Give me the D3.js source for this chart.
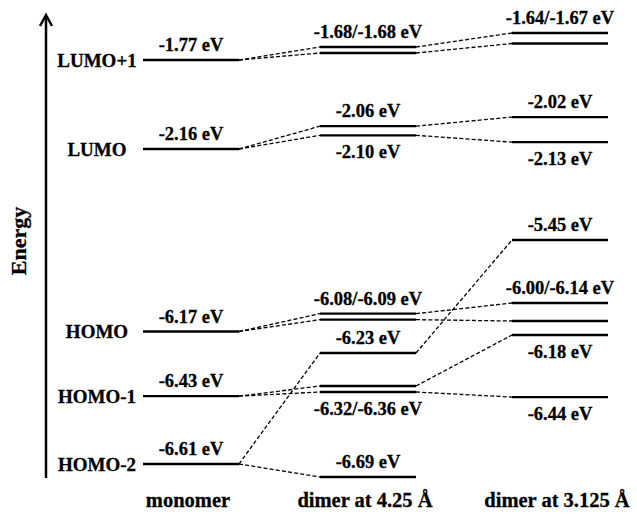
<!DOCTYPE html>
<html>
<head>
<meta charset="utf-8">
<script src="https://cdn.jsdelivr.net/npm/d3@7"></script>
<style>
  body { margin: 0; background: #fff; }
  text { font-family: "Liberation Serif", "Times New Roman", serif; font-weight: bold; fill: #000;
         stroke: #000; stroke-width: 0.3px; }
</style>
</head>
<body>
<svg id="chart" width="637" height="518"></svg>
<script>
// Frontier orbital energies (eV) of the monomer and its two dimers
const orbitals = ["LUMO+1", "LUMO", "HOMO", "HOMO-1", "HOMO-2"];
const columns = ["monomer", "dimer at 4.25 Å", "dimer at 3.125 Å"];
const monomerEnergies = [-1.77, -2.16, -6.17, -6.43, -6.61];
// each monomer orbital splits into two dimer levels (null = not followed)
const dimer425Energies = [[-1.68, -1.68], [-2.06, -2.10], [-6.08, -6.09], [-6.32, -6.36], [-6.23, -6.69]];
const dimer3125Energies = [[-1.64, -1.67], [-2.02, -2.13], [-6.00, -6.14], [-6.18, -6.44], [-5.45, null]];
// value labels: [orbital index, split levels named, side of the level]
const labels425 = [[0, [0, 1], "above"], [1, [0], "above"], [1, [1], "below"], [2, [0, 1], "above"],
                   [3, [0, 1], "below"], [4, [0], "above"], [4, [1], "above"]];
const labels3125 = [[0, [0, 1], "above"], [1, [0], "above"], [1, [1], "below"], [2, [0, 1], "above"],
                    [3, [0], "below"], [3, [1], "below"], [4, [0], "above"]];

const svg = d3.select("#chart");

// schematic (non-uniform, broken) energy axis
const y = d3.scaleLinear()
  .domain([-1.64, -1.68, -1.77, -2.16, -5.45, -6.00, -6.09, -6.14, -6.20, -6.32, -6.45, -6.61, -6.69])
  .range([33, 47, 60, 149, 240, 303, 315, 321, 342, 386, 398, 464, 477]);
const x = d3.scaleOrdinal().domain(columns).range([143, 320, 512]);
const levelW = 96;
const minGap = 6;

// build level records for one column and keep near-degenerate levels apart
function placeColumn(col, rows) {
  const recs = [];
  rows.forEach((vals, i) => vals.forEach((e, j) => {
    if (e !== null) recs.push({ col, i, j, e, y: y(e) });
  }));
  recs.sort((a, b) => a.y - b.y || a.j - b.j);
  recs.forEach((r, k) => { if (k > 0) r.y = Math.max(r.y, recs[k - 1].y + minGap); });
  return recs;
}
const monoLevels = placeColumn(columns[0], monomerEnergies.map(e => [e]));
const d425Levels = placeColumn(columns[1], dimer425Energies);
const d3125Levels = placeColumn(columns[2], dimer3125Energies);
const find = (levels, i, j) => levels.find(r => r.i === i && r.j === j);

// dashed correlation lines
const links = [];
orbitals.forEach((o, i) => {
  const m = find(monoLevels, i, 0);
  [0, 1].forEach(j => {
    const a = find(d425Levels, i, j);
    links.push([m, a]);
    const b = find(d3125Levels, i, j);
    if (b) links.push([a, b]);
  });
});
svg.append("g").selectAll("line").data(links).join("line")
  .attr("x1", d => x(d[0].col) + levelW).attr("y1", d => d[0].y)
  .attr("x2", d => x(d[1].col)).attr("y2", d => d[1].y)
  .attr("stroke", "#000").attr("stroke-width", 1.3).attr("stroke-dasharray", "4,2.2");

// energy levels
const allLevels = monoLevels.concat(d425Levels, d3125Levels);
svg.append("g").selectAll("line").data(allLevels).join("line")
  .attr("x1", d => x(d.col)).attr("x2", d => x(d.col) + levelW)
  .attr("y1", d => d.y).attr("y2", d => d.y)
  .attr("stroke", "#000").attr("stroke-width", 2.3);

// value labels
const fmt = v => v.toFixed(2);
const valueLabels = monoLevels.map(r => ({ col: r.col, text: fmt(r.e) + " eV", y: r.y - 9 }));
function addLabels(levels, specs) {
  specs.forEach(([i, js, side]) => {
    const recs = js.map(j => find(levels, i, j));
    const ys = recs.map(r => r.y);
    valueLabels.push({
      col: recs[0].col,
      text: recs.map(r => fmt(r.e)).join("/") + " eV",
      y: side === "above" ? d3.min(ys) - 9 : d3.max(ys) + 23
    });
  });
}
addLabels(d425Levels, labels425);
addLabels(d3125Levels, labels3125);
svg.append("g").selectAll("text").data(valueLabels).join("text")
  .attr("x", d => x(d.col) + levelW / 2).attr("y", d => d.y)
  .attr("text-anchor", "middle").style("font-size", "18.5px")
  .text(d => d.text);

// orbital names
svg.append("g").selectAll("text").data(monoLevels).join("text")
  .attr("x", 97).attr("y", d => d.y + 6.5)
  .attr("text-anchor", "middle").style("font-size", "19px")
  .text(d => orbitals[d.i]);

// column names
svg.append("g").selectAll("text").data(columns).join("text")
  .attr("x", d => x(d) + levelW / 2 - 3).attr("y", 507)
  .attr("text-anchor", "middle").style("font-size", "20.5px")
  .text(d => d);

// energy arrow
svg.append("line").attr("x1", 46).attr("x2", 46).attr("y1", 478).attr("y2", 16)
  .attr("stroke", "#000").attr("stroke-width", 2.5);
svg.append("path").attr("d", "M40,26L46,15L52,26")
  .attr("fill", "none").attr("stroke", "#000").attr("stroke-width", 2.5);
svg.append("text").attr("transform", "translate(26,241) rotate(-90)")
  .attr("text-anchor", "middle").style("font-size", "22px").text("Energy");
</script>
</body>
</html>
